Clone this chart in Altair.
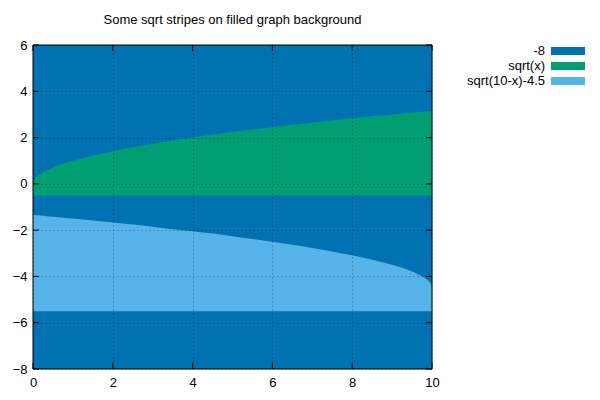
import altair as alt
import pandas as pd

# Series
x_vals = [0, 0.02, 0.05, 0.1, 0.2, 0.35, 0.5, 0.75, 1, 1.5, 2, 2.5, 3, 3.5, 4, 4.5, 5, 5.5, 6, 6.5, 7, 7.5, 8, 8.5, 9, 9.25, 9.5, 9.65, 9.8, 9.9, 9.95, 9.98, 10]
sqrt_vals = [0, 0.14, 0.22, 0.32, 0.45, 0.59, 0.71, 0.87, 1.0, 1.22, 1.41, 1.58, 1.73, 1.87, 2.0, 2.12, 2.24, 2.35, 2.45, 2.55, 2.65, 2.74, 2.83, 2.92, 3.0, 3.04, 3.08, 3.11, 3.13, 3.15, 3.15, 3.16, 3.16]
sqrt10_vals = [-1.34, -1.34, -1.35, -1.36, -1.37, -1.40, -1.42, -1.46, -1.50, -1.58, -1.67, -1.76, -1.85, -1.96, -2.05, -2.15, -2.26, -2.38, -2.50, -2.63, -2.77, -2.92, -3.09, -3.28, -3.50, -3.63, -3.79, -3.91, -4.05, -4.18, -4.28, -4.36, -4.5]
green_base = -0.5
lblue_base = -5.5
bg_level = -8

series_names = ["-8", "sqrt(x)", "sqrt(10-x)-4.5"]
series_colors = ["#0072b2", "#009e73", "#56b4e9"]

x_ticks = [0, 2, 4, 6, 8, 10]
y_ticks = [-8, -6, -4, -2, 0, 2, 4, 6]
x_dom = [0, 10]
y_dom = [-8, 6]

W, H = 399, 324
FONT = "Liberation Sans"
FS = 13

df = pd.DataFrame({"x": x_vals, "s1": sqrt_vals, "s2": sqrt10_vals})
df["b1"] = green_base
df["b2"] = lblue_base

xs = alt.Scale(domain=x_dom, nice=False, zero=False)
ys = alt.Scale(domain=y_dom, nice=False, zero=False)

frame = pd.DataFrame({"x0": [x_dom[0]], "x1": [x_dom[1]], "y0": [bg_level], "y1": [y_dom[1]]})

grid_kw = dict(grid=True, gridColor="#000000", gridDash=[1, 3], gridOpacity=0.55, gridWidth=0.8,
               ticks=False, domain=False, labelFontSize=FS, labelFont=FONT, labelColor="#000000",
               labelFlush=False, labelOverlap=False, zindex=1)

bg = alt.Chart(frame).mark_rect(color=series_colors[0]).encode(
    x=alt.X("x0:Q", scale=xs, title=None, axis=alt.Axis(values=x_ticks, labelPadding=7, **grid_kw)),
    x2="x1:Q",
    y=alt.Y("y0:Q", scale=ys, title=None, axis=alt.Axis(values=y_ticks, labelPadding=6, **grid_kw)),
    y2="y1:Q",
)

green = alt.Chart(df).mark_area(color=series_colors[1], opacity=1, interpolate="monotone").encode(
    x=alt.X("x:Q", scale=xs), y=alt.Y("s1:Q", scale=ys), y2="b1:Q")
lblue = alt.Chart(df).mark_area(color=series_colors[2], opacity=1, interpolate="monotone").encode(
    x=alt.X("x:Q", scale=xs), y=alt.Y("s2:Q", scale=ys), y2="b2:Q")

border = alt.Chart(frame).mark_rect(fill=None, stroke="#000000", strokeWidth=1).encode(
    x=alt.X("x0:Q", scale=xs), x2="x1:Q", y=alt.Y("y0:Q", scale=ys), y2="y1:Q")

xt = pd.DataFrame({"t": x_ticks})
yt = pd.DataFrame({"t": y_ticks})
tk = dict(color="#000000", strokeWidth=1)
xtick_b = alt.Chart(xt).mark_rule(**tk).encode(x=alt.X("t:Q", scale=xs), y=alt.value(H), y2=alt.value(H - 6))
xtick_t = alt.Chart(xt).mark_rule(**tk).encode(x=alt.X("t:Q", scale=xs), y=alt.value(0), y2=alt.value(6))
ytick_l = alt.Chart(yt).mark_rule(**tk).encode(y=alt.Y("t:Q", scale=ys), x=alt.value(0), x2=alt.value(6))
ytick_r = alt.Chart(yt).mark_rule(**tk).encode(y=alt.Y("t:Q", scale=ys), x=alt.value(W), x2=alt.value(W - 6))

# manual gnuplot-style legend (text left of swatch)
leg = pd.DataFrame({"name": series_names, "color": series_colors,
                    "py": [6 + 15 * i for i in range(len(series_names))]})
leg["py0"] = leg["py"] - 4
leg["py1"] = leg["py"] + 4
leg_text = alt.Chart(leg).mark_text(align="right", baseline="middle", fontSize=FS, font=FONT,
                                    color="#000000").encode(
    x=alt.value(512), y=alt.Y("py:Q", scale=None), text="name:N")
leg_sw = alt.Chart(leg).mark_rect().encode(
    x=alt.value(518), x2=alt.value(552), y=alt.Y("py0:Q", scale=None), y2="py1:Q",
    color=alt.Color("color:N", scale=None, legend=None))

chart = alt.layer(bg, green, lblue, xtick_b, xtick_t, ytick_l, ytick_r, border, leg_text, leg_sw).properties(
    width=W, height=H,
    title=alt.Title("Some sqrt stripes on filled graph background", fontSize=FS, fontWeight="normal",
                    font=FONT, color="#000000", anchor="middle", offset=12),
    autosize=alt.AutoSizeParams(type="none"),
    padding={"left": 25, "top": 37, "right": 160, "bottom": 23},
).configure_view(stroke=None)

chart.save("out.html", embed_options={"renderer": "svg", "actions": False})
